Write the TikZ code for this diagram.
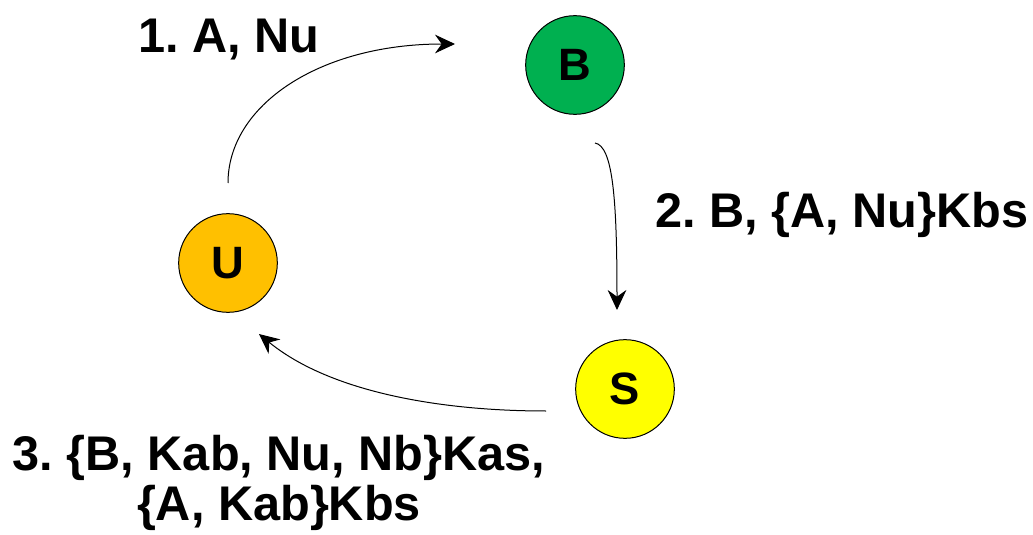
\documentclass[tikz,border=0pt]{standalone}
\usepackage{fontspec}
\setmainfont{Liberation Sans}
\usetikzlibrary{arrows.meta}
\definecolor{nodeB}{RGB}{0,176,80}
\definecolor{nodeU}{RGB}{255,192,0}
\definecolor{nodeS}{RGB}{255,255,0}
\frenchspacing
\begin{document}
\begin{tikzpicture}[x=0.75pt,y=-0.75pt,
  party/.style={circle,draw=black,line width=0.75pt,minimum size=74pt,inner sep=0pt,
    font=\fontsize{34}{40}\selectfont\bfseries},
  msg/.style={font=\fontsize{36.5}{37.5}\selectfont\bfseries,inner sep=0pt},
  flow/.style={line width=0.75pt,-{Stealth[length=15pt,width=14pt,inset=5pt]}}]
\useasboundingbox (0,0) rectangle (1033,535);

% participants
\node[party,fill=nodeB] (B) at (575,65) {B};
\node[party,fill=nodeU] (U) at (228,263) {U};
\node[party,fill=nodeS] (S) at (625,389) {S};

% free ends of the message arrows
\coordinate (m1s) at (228,183);
\coordinate (m1e) at (455,44);
\coordinate (m2s) at (595,143);
\coordinate (m2e) at (617,310);
\coordinate (m3s) at (546,411);
\coordinate (m3e) at (259,334);

% messages
\draw[flow] (m1s) .. controls (228,105) and (320,44) .. (m1e);
\draw[flow] (m2s) .. controls (613,146) and (617,200) .. (m2e);
\draw[flow] (m3s) .. controls (440,411) and (330,392) .. (m3e);

% message labels
\node[msg,anchor=base west] (l1) at (138,53) {1. A, Nu};
\node[msg,anchor=base west] (l2) at (655,227) {2. B, \{A, Nu\}Kbs};
\node[msg,anchor=base,align=center] (l3) at (279,520) {3. \{B, Kab, Nu, Nb\}Kas,\\\{A, Kab\}Kbs};
\end{tikzpicture}
\end{document}
